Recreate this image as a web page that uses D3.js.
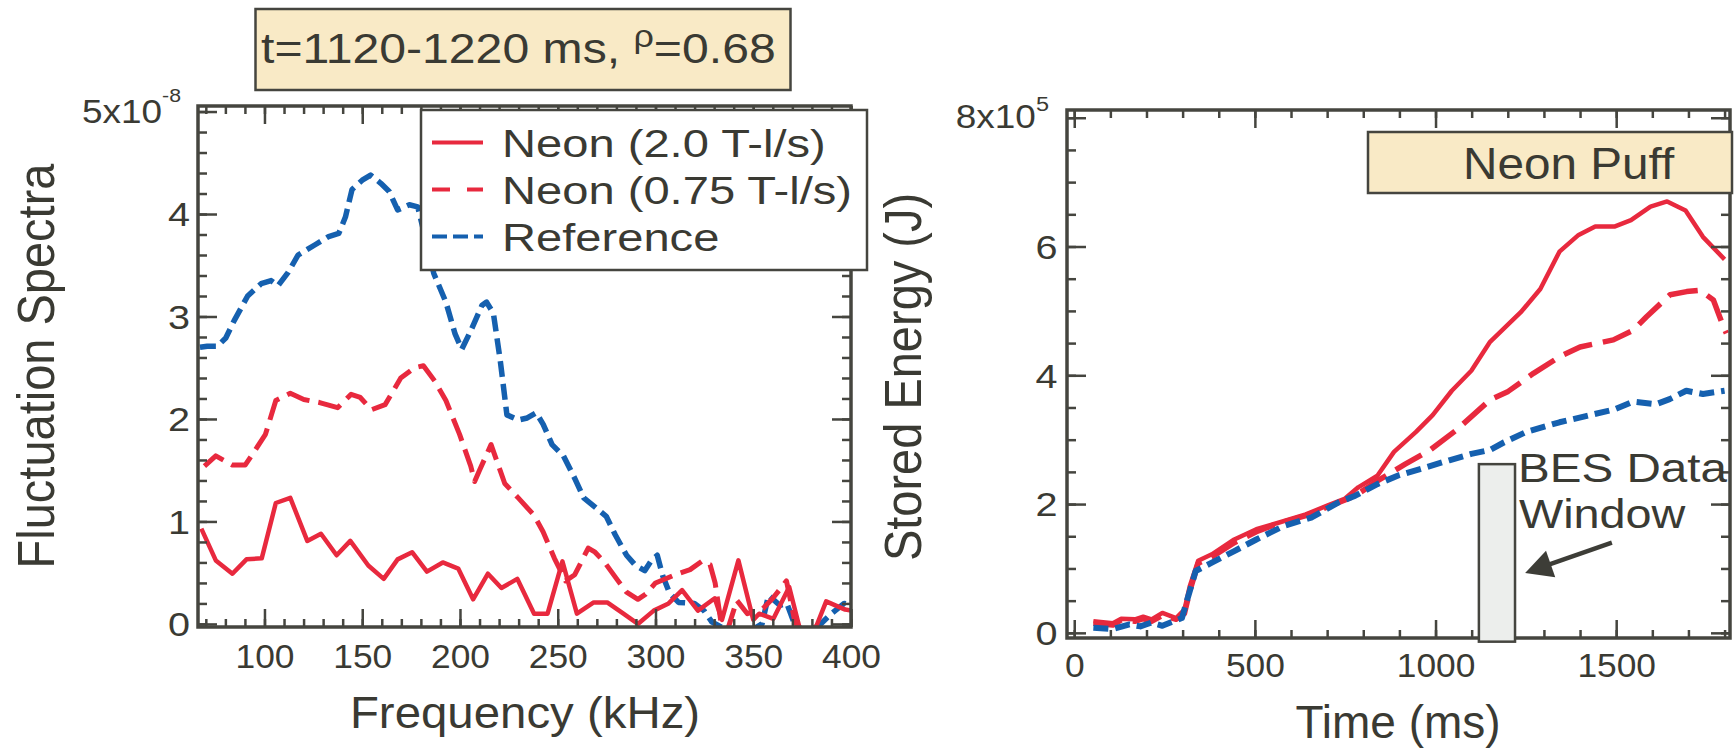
<!DOCTYPE html>
<html>
<head>
<meta charset="utf-8">
<script src="https://cdn.jsdelivr.net/npm/d3@7"></script>
<style>
body { margin: 0; background: #fff; }
svg text { font-family: "Liberation Sans", Arial, sans-serif; fill: #3a3a33; }
</style>
</head>
<body>
<div id="chart"></div>
<script>
// left panel: fluctuation spectra (x1e-8) vs frequency (kHz)
var neon20 = [[67.7,0.93],[75.1,0.62],[83.6,0.49],[90.8,0.63],[98.6,0.64],[105.8,1.18],[113.2,1.23],[121.9,0.81],
    [128.9,0.88],[136.9,0.67],[143.9,0.81],[153.1,0.57],[161.0,0.44],[168.1,0.63],[175.5,0.70],[183.1,0.51],
    [191.2,0.60],[199.1,0.54],[206.7,0.24],[214.3,0.49],[221.2,0.35],[229.3,0.44],[237.9,0.10],[244.8,0.10],
    [252.4,0.61],[259.8,0.10],[268.4,0.21],[275.3,0.21],[283.6,0.10],[291.0,0.00],[299.1,0.13],[306.7,0.20],
    [313.6,0.33],[321.7,0.13],[330.3,0.25],[334.0,0.04],[342.4,0.62],[350.0,0.04],[353.0,0.10],[360.3,0.05],
    [368.4,0.36],[374.5,-0.10],[382.3,-0.02],[387.3,0.22],[397.0,0.14],[400.7,0.13]];
var neon075 = [[69.3,1.54],[75.1,1.64],[83.6,1.55],[90.1,1.55],[94.7,1.68],[100.5,1.85],[105.8,2.18],[113.2,2.25],
    [120.1,2.19],[128.2,2.16],[137.4,2.11],[144.3,2.24],[149.0,2.21],[154.7,2.09],[161.7,2.14],[169.7,2.40],
    [176.7,2.50],[181.3,2.52],[187.1,2.37],[192.8,2.18],[199.8,1.85],[205.5,1.54],[207.5,1.39],[210.0,1.50],
    [215.9,1.75],[222.9,1.37],[229.8,1.23],[237.9,1.06],[242.5,0.90],[248.3,0.64],[254.0,0.42],[258.7,0.48],
    [265.6,0.74],[269.1,0.70],[274.0,0.60],[280.5,0.43],[285.2,0.31],[291.0,0.24],[295.0,0.29],[300.0,0.40],
    [310,0.48],[317.7,0.53],[323.6,0.61],[327.9,0.58],[330.5,0.40],[333.5,0.02],[337,-0.05],[341.6,0.23],
    [347,0.10],[355,0.15],[360,0.25],[367,0.42],[371,0.05],[373,-0.05]];
var refSpec = [[67,2.70],[70.7,2.71],[75.9,2.71],[80.2,2.79],[84.5,2.96],[91.4,3.20],[98.3,3.32],[103.4,3.35],
    [106.9,3.30],[112.1,3.43],[117.2,3.60],[125.9,3.70],[132.8,3.78],[138.0,3.81],[141.4,3.97],[144.8,4.24],
    [150,4.33],[154.3,4.38],[159.5,4.30],[163.8,4.22],[168.1,4.04],[174.1,4.09],[178.4,4.07],[182.5,3.75],
    [186.6,3.42],[192.8,3.14],[197.5,2.83],[200.9,2.68],[205.5,2.86],[211.3,3.11],[213.6,3.14],[217.1,3.03],
    [220.6,2.57],[224.0,2.04],[229.8,1.99],[234.4,2.01],[239.0,2.06],[242.5,1.95],[247.1,1.75],[252.9,1.64],
    [258.7,1.42],[263.3,1.23],[269.1,1.14],[274.8,1.05],[279.4,0.87],[285.2,0.67],[289.8,0.57],[294.5,0.52],
    [297.9,0.62],[300.9,0.67],[303.7,0.47],[307.2,0.30],[311.8,0.21],[319.9,0.20],[324.8,0.13],[328.8,0.02],
    [340,-0.10],[350,-0.05],[354.5,0.0],[357.8,0.28],[363.7,0.18],[367.2,0.20],[370.7,0.02],[377,-0.10],
    [384.5,0.0],[390,0.10],[396.5,0.20],[400.7,0.17]];
var freqTicks = [100, 150, 200, 250, 300, 350, 400];
var specTicks = [0, 1, 2, 3, 4, 5];

// right panel: stored energy (x1e5 J) vs time (ms)
var neon20W = [[53,0.18],[107,0.15],[130,0.22],[168,0.21],[191,0.25],[214,0.21],[244,0.31],[282,0.23],[305,0.36],
    [320,0.73],[343,1.12],[381,1.22],[443,1.45],[504,1.61],[565,1.71],[641,1.84],[702,1.98],[748,2.08],[786,2.26],
    [839,2.44],[885,2.81],[946,3.12],[992,3.38],[1045,3.76],[1099,4.07],[1151,4.52],[1236,4.98],[1290,5.34],
    [1343,5.92],[1396,6.18],[1442,6.31],[1495,6.31],[1541,6.41],[1595,6.62],[1641,6.70],[1692,6.56],[1740,6.15],
    [1800,5.80]];
var neon075W = [[53,0.15],[107,0.12],[130,0.20],[168,0.18],[191,0.22],[214,0.18],[244,0.27],[282,0.21],[305,0.30],
    [320,0.65],[343,1.08],[381,1.18],[443,1.40],[504,1.57],[565,1.70],[641,1.82],[702,1.96],[748,2.06],[778,2.13],
    [839,2.36],[916,2.62],[985,2.84],[1058,3.15],[1151,3.62],[1201,3.75],[1271,4.03],[1344,4.29],[1400,4.44],
    [1492,4.55],[1547,4.70],[1584,4.91],[1649,5.25],[1695,5.30],[1732,5.32],[1769,5.17],[1797,4.75],[1805,4.65]];
var refW = [[53,0.08],[107,0.06],[153,0.13],[183,0.10],[214,0.16],[244,0.11],[275,0.18],[298,0.23],[313,0.52],
    [336,0.96],[381,1.09],[443,1.27],[504,1.45],[580,1.66],[656,1.79],[733,2.03],[778,2.13],[839,2.31],[900,2.45],
    [961,2.55],[1038,2.68],[1099,2.78],[1151,2.84],[1190,2.96],[1251,3.12],[1343,3.27],[1419,3.37],[1495,3.47],
    [1547,3.59],[1610,3.55],[1648,3.63],[1694,3.76],[1740,3.71],[1800,3.76]];
var timeTicks = [0, 500, 1000, 1500];
var energyTicks = [0, 2, 4, 6, 8];
var besWindow = [1120, 1220];
var besTop = 2.62;
var arrowFrom = [1488, 1.40], arrowTo = [1248, 0.93];
var legendLabels = ["Neon (2.0 T-l/s)", "Neon (0.75 T-l/s)", "Reference"];

var ink = "#3a3a33", frameInk = "#45453f";
var red = "#e8293e", blue = "#1560af";

var svg = d3.select("#chart").append("svg").attr("width", 1735).attr("height", 749);

// text in the original is drawn a little wider than the font, k is that stretch
function label(parent, x, y, txt, size, anchor, k, rotate) {
    return parent.append("g")
        .attr("transform", "translate(" + x + "," + y + ") scale(" + k + ",1)" + (rotate ? " rotate(-90)" : ""))
        .append("text")
        .attr("text-anchor", anchor || "start")
        .style("font-size", size + "px")
        .text(txt);
}

function axisG(g, axis, tx, ty) {
    var a = g.append("g").attr("transform", "translate(" + tx + "," + ty + ")").call(axis);
    a.select(".domain").remove();
    a.selectAll("line").attr("stroke", frameInk).attr("stroke-width", 2.5);
    return a;
}

function frame(g, x, y, xMaj, xMin, yMaj, yMin, xLabY, yLabX, yFmt) {
    var x0 = x.range()[0], x1 = x.range()[1], y0 = y.range()[0], y1 = y.range()[1];
    axisG(g, d3.axisBottom(x).tickValues(xMin).tickSize(-8).tickFormat(""), 0, y0);
    axisG(g, d3.axisTop(x).tickValues(xMin).tickSize(-8).tickFormat(""), 0, y1);
    axisG(g, d3.axisTop(x).tickValues(xMaj).tickSize(-18).tickFormat(""), 0, y1);
    axisG(g, d3.axisLeft(y).tickValues(yMin).tickSize(-9).tickFormat(""), x0, 0);
    axisG(g, d3.axisRight(y).tickValues(yMin).tickSize(-9).tickFormat(""), x1, 0);
    axisG(g, d3.axisRight(y).tickValues(yMaj).tickSize(-19).tickFormat(""), x1, 0);

    var bx = axisG(g, d3.axisBottom(x).tickValues(xMaj).tickSize(-18).tickFormat(d3.format("d")), 0, y0);
    bx.selectAll("text").attr("y", xLabY).attr("dy", null).attr("fill", ink)
        .style("font-size", "34px").attr("transform", "scale(1.04,1)");

    var ly = axisG(g, d3.axisLeft(y).tickValues(yMaj).tickSize(-19).tickFormat(yFmt), x0, 0);
    ly.selectAll("text").attr("x", yLabX / 1.2).attr("dy", "0.36em").attr("fill", ink)
        .style("font-size", "33px").attr("transform", "scale(1.2,1)");

    g.append("rect").attr("x", x0).attr("y", y1).attr("width", x1 - x0).attr("height", y0 - y1)
        .attr("fill", "none").attr("stroke", frameInk).attr("stroke-width", 3.5);
}

function sciLabel(g, x, y, base, sup, supSize, supDy) {
    var t = label(g, x, y, null, 33, "end", 1.12);
    t.append("tspan").text(base);
    t.append("tspan").style("font-size", supSize + "px").attr("dy", -supDy).text(sup);
}

function drawLines(g, x, y, id, series) {
    g.append("clipPath").attr("id", id).append("rect")
        .attr("x", x.range()[0]).attr("y", y.range()[1])
        .attr("width", x.range()[1] - x.range()[0]).attr("height", y.range()[0] - y.range()[1]);
    var line = d3.line().x(function (d) { return x(d[0]); }).y(function (d) { return y(d[1]); });
    series.forEach(function (s) {
        g.append("path").datum(s.data)
            .attr("clip-path", "url(#" + id + ")")
            .attr("d", line)
            .attr("fill", "none")
            .attr("stroke", s.color)
            .attr("stroke-width", s.width)
            .attr("stroke-linejoin", "round")
            .attr("stroke-dasharray", s.dash);
    });
}

// ---------------- left panel ----------------
var gL = svg.append("g");
var xL = d3.scaleLinear().domain([66, 400]).range([198, 851]);
var yL = d3.scaleLinear().domain([-0.03, 5.054]).range([627, 106]);

drawLines(gL, xL, yL, "clipL", [
    { data: refSpec, color: blue, width: 5.5, dash: "16,7" },
    { data: neon075, color: red, width: 5, dash: "24,9" },
    { data: neon20, color: red, width: 4.5, dash: null }
]);

frame(gL, xL, yL, freqTicks, d3.range(70, 401, 10), specTicks, d3.range(0, 5.01, 0.2),
    41, -8, function (d) { return d === 5 ? "" : d; });
sciLabel(gL, 181, yL(5) + 11.5, "5x10", "-8", 19, 21);

label(svg, 54, 366, "Fluctuation Spectra", 47, "middle", 1.1, true);
label(svg, 525, 728, "Frequency (kHz)", 44, "middle", 1.077);

// legend
var leg = svg.append("g");
leg.append("rect").attr("x", 421).attr("y", 110).attr("width", 446).attr("height", 160)
    .attr("fill", "#fff").attr("stroke", frameInk).attr("stroke-width", 2.5);
var legStyle = [{ color: red, dash: null, w: 4 }, { color: red, dash: "18,17", w: 4 }, { color: blue, dash: "15,6", w: 4 }];
legendLabels.forEach(function (name, i) {
    var ly = 142.5 + i * 47;
    leg.append("line").attr("x1", 432).attr("x2", 483).attr("y1", ly).attr("y2", ly)
        .attr("stroke", legStyle[i].color).attr("stroke-width", legStyle[i].w)
        .attr("stroke-dasharray", legStyle[i].dash);
    label(leg, 502, 156.5 + i * 47, name, 38, "start", 1.24);
});

// title box
svg.append("rect").attr("x", 255.5).attr("y", 9).attr("width", 535).attr("height", 81)
    .attr("fill", "#f9eac6").attr("stroke", frameInk).attr("stroke-width", 2.5);
var tt = label(svg, 261, 63, null, 43, "start", 1.12);
tt.append("tspan").text("t=1120-1220 ms, ");
tt.append("tspan").style("font-size", "32px").attr("dy", -16.5).text("\u03c1");
tt.append("tspan").attr("dy", 16.5).text("=0.68");

// ---------------- right panel ----------------
var gR = svg.append("g");
var xR = d3.scaleLinear().domain([-20, 1815]).range([1067, 1730]);
var yR = d3.scaleLinear().domain([-0.08, 8.12]).range([638, 110]);

drawLines(gR, xR, yR, "clipR", [
    { data: neon20W, color: red, width: 4.5, dash: null },
    { data: neon075W, color: red, width: 5.5, dash: "30,11" },
    { data: refW, color: blue, width: 6, dash: "15,7" }
]);

frame(gR, xR, yR, timeTicks, d3.range(0, 1801, 100), energyTicks, d3.range(0, 8.01, 0.5),
    39, -9.5, function (d) { return d === 8 ? "" : d; });
sciLabel(gR, 1049, yR(8) + 10, "8x10", "5", 21, 17);

label(svg, 921, 377, "Stored Energy (J)", 47, "middle", 1.1, true);
label(svg, 1398, 738, "Time (ms)", 46, "middle", 1.0);

// neon puff box
svg.append("rect").attr("x", 1368).attr("y", 132).attr("width", 364).attr("height", 61)
    .attr("fill", "#f9eac6").attr("stroke", frameInk).attr("stroke-width", 2.5);
label(svg, 1463, 179, "Neon Puff", 45, "start", 1.06);

// BES data window
svg.append("rect")
    .attr("x", xR(besWindow[0])).attr("y", yR(besTop))
    .attr("width", xR(besWindow[1]) - xR(besWindow[0]))
    .attr("height", yR(-0.137) - yR(besTop))
    .attr("fill", "#eceeec").attr("stroke", frameInk).attr("stroke-width", 2.5);
label(svg, 1518, 482, "BES Data", 40, "start", 1.19);
label(svg, 1519, 528, "Window", 40, "start", 1.17);

// arrow
var ax0 = xR(arrowFrom[0]), ay0 = yR(arrowFrom[1]), ax1 = xR(arrowTo[0]), ay1 = yR(arrowTo[1]);
var len = Math.hypot(ax1 - ax0, ay1 - ay0), ux = (ax1 - ax0) / len, uy = (ay1 - ay0) / len;
var hl = 27, hw = 14;
var bxp = ax1 - ux * hl, byp = ay1 - uy * hl;
svg.append("line").attr("x1", ax0).attr("y1", ay0).attr("x2", bxp + ux * 2).attr("y2", byp + uy * 2)
    .attr("stroke", "#3d3d37").attr("stroke-width", 4.5);
svg.append("path")
    .attr("d", "M" + ax1 + "," + ay1 + "L" + (bxp - uy * hw) + "," + (byp + ux * hw) + "L" + (bxp + uy * hw) + "," + (byp - ux * hw) + "Z")
    .attr("fill", "#3d3d37");
</script>
</body>
</html>
